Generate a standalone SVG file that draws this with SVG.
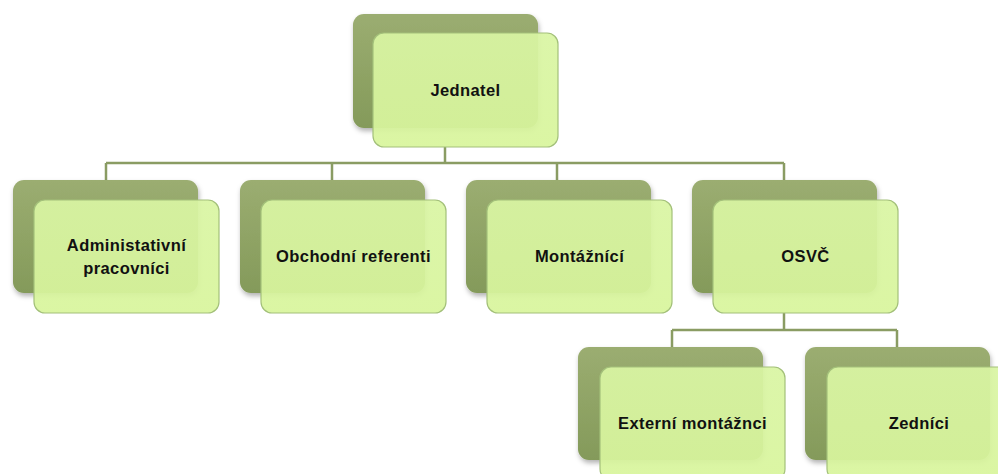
<svg xmlns="http://www.w3.org/2000/svg" width="998" height="474" viewBox="0 0 998 474">
<defs>
<linearGradient id="gBack" x1="0" y1="0" x2="0" y2="1">
<stop offset="0" stop-color="#9bad71"/>
<stop offset="1" stop-color="#849a5a"/>
</linearGradient>
<linearGradient id="gFront" x1="0" y1="0" x2="0" y2="1">
<stop offset="0" stop-color="#d9f5a3"/>
<stop offset="1" stop-color="#d8f59c"/>
</linearGradient>
<filter id="sh" x="-10%" y="-10%" width="125%" height="130%">
<feDropShadow dx="1" dy="3" stdDeviation="2.5" flood-color="#000" flood-opacity="0.3"/>
</filter>
</defs>
<style>
.back{fill:url(#gBack);filter:url(#sh)}
.front{fill:url(#gFront);fill-opacity:0.93;stroke:#a3c07a;stroke-width:1.2}
.lbl{font-family:"Liberation Sans",Arial,sans-serif;font-weight:bold;font-size:16.5px;letter-spacing:0.4px;fill:#111;text-anchor:middle}
.conn{fill:none;stroke:#8a9c63;stroke-width:2.5}
</style>
<rect width="998" height="474" fill="#fff"/>
<g id="connectors">
<path class="conn" d="M445 147V163M106 163H784M106 163V180M332 163V180M557 163V180M784 163V180"/>
<path class="conn" d="M784 313V330M672 330H897M672 330V347M897 330V347"/>
</g>
<g id="jednatel">
<rect class="back" x="353" y="14" width="185" height="114" rx="11"/>
<rect class="front" x="373" y="33" width="185" height="114" rx="11"/>
<text class="lbl" x="465.5" y="96">Jednatel</text>
</g>
<g id="admin">
<rect class="back" x="13" y="180" width="185" height="113" rx="11"/>
<rect class="front" x="34" y="200" width="185" height="113" rx="11"/>
<text class="lbl" x="126.5" y="251">Administativní</text>
<text class="lbl" x="126.5" y="274">pracovníci</text>
</g>
<g id="obchodni">
<rect class="back" x="240" y="180" width="185" height="113" rx="11"/>
<rect class="front" x="261" y="200" width="185" height="113" rx="11"/>
<text class="lbl" x="353.5" y="262">Obchodní referenti</text>
</g>
<g id="montaznici">
<rect class="back" x="466" y="180" width="185" height="113" rx="11"/>
<rect class="front" x="487" y="200" width="185" height="113" rx="11"/>
<text class="lbl" x="579.5" y="262">Montážnící</text>
</g>
<g id="osvc">
<rect class="back" x="692" y="180" width="185" height="113" rx="11"/>
<rect class="front" x="713" y="200" width="185" height="113" rx="11"/>
<text class="lbl" x="805.5" y="262">OSVČ</text>
</g>
<g id="externi">
<rect class="back" x="578" y="347" width="185" height="113" rx="11"/>
<rect class="front" x="600" y="367" width="185" height="113" rx="11"/>
<text class="lbl" x="692.5" y="429">Externí montážnci</text>
</g>
<g id="zednici">
<rect class="back" x="805" y="347" width="185" height="113" rx="11"/>
<rect class="front" x="827" y="367" width="185" height="113" rx="11"/>
<text class="lbl" x="919" y="429">Zedníci</text>
</g>
</svg>
